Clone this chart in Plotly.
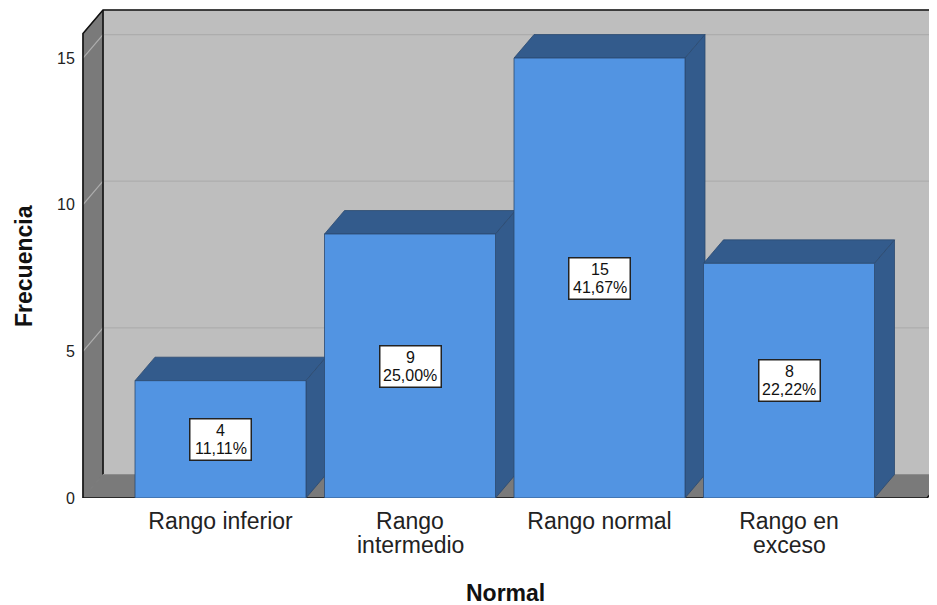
import plotly.graph_objects as go

categories = [["Rango inferior"], ["Rango", "intermedio"], ["Rango normal"], ["Rango en", "exceso"]]
counts = [4, 9, 15, 8]
percents = ["11,11%", "25,00%", "41,67%", "22,22%"]
y_ticks = [0, 5, 10, 15]
x_title = "Normal"
y_title = "Frecuencia"

# Layout of the pseudo-3D box (in axis units)
SLOT_PX = 189.5
UNIT_PX = 29.33
BAR_W = 171 / SLOT_PX
DX = 20 / SLOT_PX
DY = 23.5 / UNIT_PX
PLOT_L, PLOT_T, PLOT_B = 80, 8, 498
PLOT_W, PLOT_H = 857, PLOT_B - PLOT_T
X_MIN = (PLOT_L - 220.5) / SLOT_PX
X0 = (83 - 220.5) / SLOT_PX
X1 = (937 - 220.5) / SLOT_PX
XF = (927 - 220.5) / SLOT_PX
Y1 = (498 - 10) / UNIT_PX
Y_MAX = (PLOT_B - PLOT_T) / UNIT_PX

WALL = "#bebebe"
SIDE = "#7a7a7a"
GRID = "#adadad"
FRONT = "#5294e2"
DARK = "#335b8c"
EDGE = "#2c4a70"

fig = go.Figure()


def poly(xs, ys, fill, line=None, width=1):
    fig.add_trace(go.Scatter(
        x=xs + xs[:1], y=ys + ys[:1], mode="lines", fill="toself", fillcolor=fill,
        line=dict(color=line or fill, width=width), hoverinfo="skip", showlegend=False,
    ))


def seg(xs, ys, color, width):
    fig.add_trace(go.Scatter(
        x=xs, y=ys, mode="lines", line=dict(color=color, width=width),
        hoverinfo="skip", showlegend=False,
    ))


# back wall, left wall, floor
poly([X0 + DX, X1 + 1, X1 + 1, X0 + DX], [DY, DY, Y1, Y1], WALL)
poly([X0, X0 + DX, X0 + DX, X0], [0, DY, Y1, Y1 - DY], SIDE)
poly([X0, XF, XF + DX, X0 + DX], [0, 0, DY, DY], SIDE)

# gridlines
for t in y_ticks[1:]:
    seg([X0, X0 + DX, X1 + 1], [t, t + DY, t + DY], GRID, 1.2)

# box outline
seg([X0, X0, X0 + DX, X1 + 1], [0, Y1 - DY, Y1, Y1], "#111111", 1.6)
seg([X0 + DX, X0 + DX], [DY, Y1], "#111111", 1.6)
seg([X0 + DX, X1 + 1], [DY, DY], "#8c8c8c", 1)
seg([X0, XF, XF + DX], [0, 0, DY], "#111111", 1.6)

# bars
for i, v in enumerate(counts):
    l, r = i - BAR_W / 2, i + BAR_W / 2
    poly([l, r, r + DX, l + DX], [v, v, v + DY, v + DY], DARK, EDGE, 0.8)
    poly([r, r + DX, r + DX, r], [0, DY, v + DY, v], DARK, EDGE, 0.8)
    poly([l, r, r, l], [0, 0, v, v], FRONT, EDGE, 0.8)

# value labels
label_font = dict(family="Liberation Sans", size=16, color="#111111")
for i, v in enumerate(counts):
    fig.add_annotation(
        x=i, y=v / 2, xref="x", yref="y", text=" ", showarrow=False,
        bgcolor="white", bordercolor="#222222", borderwidth=1.5, borderpad=0,
        width=60, height=40,
    )
    fig.add_annotation(x=i, y=v / 2, xref="x", yref="y", yshift=9, text=str(v),
                       showarrow=False, font=label_font)
    fig.add_annotation(x=i, y=v / 2, xref="x", yref="y", yshift=-9, text=percents[i],
                       showarrow=False, font=label_font)

# second lines of the two-line category labels
CAT_SIZE = 23
for i, lines in enumerate(categories):
    if len(lines) > 1:
        fig.add_annotation(x=i, y=(PLOT_B - 545) / PLOT_H, xref="x", yref="paper", text=lines[1],
                           xanchor="center", yanchor="middle", showarrow=False,
                           font=dict(family="Liberation Sans", size=CAT_SIZE, color="#222222"))

# axis titles
title_font = dict(family="Liberation Sans", size=23, color="#111111")
fig.add_annotation(x=(505 - PLOT_L) / PLOT_W, y=(PLOT_B - 593) / PLOT_H, xref="paper", yref="paper",
                   xanchor="center", yanchor="middle",
                   text=f"<b>{x_title}</b>", showarrow=False, font=title_font)
fig.add_annotation(x=(24 - PLOT_L) / PLOT_W, y=(PLOT_B - 266) / PLOT_H, xref="paper", yref="paper",
                   xanchor="center", yanchor="middle",
                   text=f"<b>{y_title}</b>", showarrow=False, font=title_font, textangle=-90)

fig.update_layout(
    width=929, height=597, autosize=False, showlegend=False,
    paper_bgcolor="white", plot_bgcolor="white",
    margin=dict(l=72, r=0, t=0, b=107),
    font=dict(family="Liberation Sans", color="#222222"),
    xaxis=dict(
        range=[X_MIN, X1], tickmode="array", tickvals=list(range(len(categories))),
        ticktext=[lines[0] for lines in categories], tickfont=dict(size=CAT_SIZE),
        showgrid=False, zeroline=False,
        showline=False, ticks="outside", ticklen=2, tickcolor="rgba(0,0,0,0)",
    ),
    yaxis=dict(
        range=[0, Y_MAX], tickmode="array", tickvals=y_ticks, tickfont=dict(size=16),
        showgrid=False, zeroline=False, showline=False, ticks="outside", ticklen=1,
        tickcolor="rgba(0,0,0,0)",
    ),
)

fig.write_html("out.html", config=dict(displayModeBar=False))
